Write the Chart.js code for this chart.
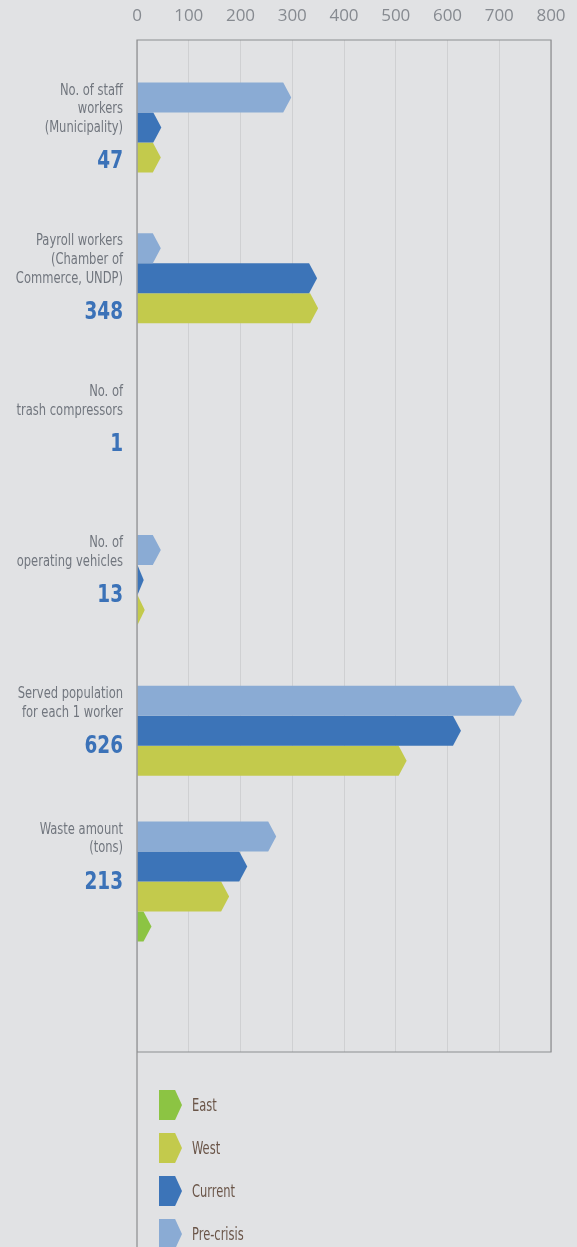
<!DOCTYPE html>
<html>
<head>
<meta charset="utf-8">
<script src="https://cdn.jsdelivr.net/npm/chart.js@4.4.1/dist/chart.umd.min.js"></script>
<style>
  html, body { margin: 0; padding: 0; background: #e1e2e4; }
  #wrap { position: relative; width: 577px; height: 1247px; overflow: hidden; }
  #legend { position: absolute; left: 159px; top: 1090px; }
  .item { height: 30px; margin-bottom: 13px; display: flex; align-items: center;
    font-family: 'Liberation Sans Narrow', 'DejaVu Sans Condensed', sans-serif;
    font-size: 17px; color: #6a5548; }
  .item span { display: inline-block; transform: scaleX(0.75); transform-origin: left center; }
  .mark { width: 23px; height: 30px; margin-right: 10px;
    clip-path: polygon(0 0, 70% 0, 100% 50%, 70% 100%, 0 100%); }
</style>
</head>
<body>
<div id="wrap">
  <canvas id="myChart" width="577" height="1247"></canvas>
  <div id="legend"></div>
</div>
<script>
// catégories (texte sur plusieurs lignes) et chiffre mis en avant
const categories = [
  ['No. of staff', 'workers', '(Municipality)'],
  ['Payroll workers', '(Chamber of', 'Commerce, UNDP)'],
  ['No. of', 'trash compressors'],
  ['No. of', 'operating vehicles'],
  ['Served population', 'for each 1 worker'],
  ['Waste amount', '(tons)']
];
const headline = ['47', '348', '1', '13', '626', '213'];

// séries
const preCrisis = [298, 46, 1, 46, 744, 269];
const current = [47, 348, 1, 13, 626, 213];
const west = [46, 350, 1, 15, 521, 178];
const east = [null, null, null, null, null, 28];

const xTicks = [0, 100, 200, 300, 400, 500, 600, 700, 800];

const seriesNames = ['Pre-crisis', 'Current', 'West', 'East'];
const seriesColors = ['#8aabd4', '#3c74b8', '#c3ca4c', '#8cc443'];
const seriesValues = [preCrisis, current, west, east];

const narrow = "'Liberation Sans Narrow', 'DejaVu Sans Condensed', sans-serif";
const BAR = 30;

// barres en forme de flèche
const arrowBars = {
  id: 'arrowBars',
  beforeDatasetDraw(chart, args) {
    const ctx = chart.ctx;
    ctx.save();
    ctx.fillStyle = chart.data.datasets[args.index].backgroundColor;
    args.meta.data.forEach(function (bar) {
      if (bar.skip) return;
      const w = bar.x - bar.base;
      if (w <= 0) return;
      const h = bar.height;
      const top = bar.y - h / 2;
      const tip = Math.min(8, w);
      ctx.beginPath();
      ctx.moveTo(bar.base, top);
      ctx.lineTo(bar.x - tip, top);
      ctx.lineTo(bar.x, bar.y);
      ctx.lineTo(bar.x - tip, top + h);
      ctx.lineTo(bar.base, top + h);
      ctx.closePath();
      ctx.fill();
    });
    ctx.restore();
    return false;
  }
};

// texte condensé (aligné à droite)
function narrowText(ctx, txt, x, y, sx) {
  ctx.save();
  ctx.translate(x, y);
  ctx.scale(sx, 1);
  ctx.fillText(txt, 0, 0);
  ctx.restore();
}

// cadre + libellés des catégories
const frameAndLabels = {
  id: 'frameAndLabels',
  afterDatasetsDraw(chart) {
    const ctx = chart.ctx;
    const a = chart.chartArea;
    ctx.save();
    ctx.strokeStyle = '#8c8d8f';
    ctx.lineWidth = 1.2;
    ctx.beginPath();
    ctx.moveTo(a.left, chart.height);
    ctx.lineTo(a.left, a.top);
    ctx.lineTo(a.right, a.top);
    ctx.lineTo(a.right, a.bottom);
    ctx.lineTo(a.left, a.bottom);
    ctx.stroke();

    const yScale = chart.scales.y;
    ctx.textAlign = 'right';
    ctx.textBaseline = 'middle';
    categories.forEach(function (lines, i) {
      // nb de barres visibles dans le groupe -> haut du groupe
      const n = seriesValues.filter(function (v) { return v[i] !== null; }).length;
      let y = yScale.getPixelForValue(i) - n * BAR / 2 + 8;
      ctx.fillStyle = '#71767e';
      ctx.font = '16px ' + narrow;
      lines.forEach(function (l, k) {
        narrowText(ctx, l, 123, y, 0.8);
        if (k < lines.length - 1) y += 18.7;
      });
      ctx.fillStyle = '#3b72b8';
      ctx.font = 'bold 25px ' + narrow;
      narrowText(ctx, headline[i], 123, y + 34, 0.82);
    });
    ctx.restore();
  }
};

const datasets = seriesNames.map(function (name, s) {
  return {
    label: name,
    data: categories.map(function (c, i) { return { x: seriesValues[s][i], y: i }; }),
    backgroundColor: seriesColors[s],
    barThickness: BAR,
    skipNull: true
  };
});

new Chart(document.getElementById('myChart'), {
  type: 'bar',
  data: { datasets: datasets },
  options: {
    indexAxis: 'y',
    responsive: false,
    animation: false,
    layout: { padding: { left: 137, right: 26, top: 0, bottom: 195 } },
    plugins: { legend: { display: false }, tooltip: { enabled: false } },
    scales: {
      x: {
        type: 'linear',
        position: 'top',
        min: 0,
        max: 800,
        afterBuildTicks: function (s) { s.ticks = xTicks.map(function (v) { return { value: v }; }); },
        afterFit: function (s) { s.height = 40; s.paddingLeft = 0; s.paddingRight = 0; },
        grid: { color: '#cfd0d2', lineWidth: 1, drawTicks: false },
        border: { display: false },
        ticks: { color: '#868a90', padding: 14, font: { family: "'Open Sans', sans-serif", size: 17 } }
      },
      y: {
        type: 'linear',
        display: false,
        offset: false,
        reverse: true,
        min: -0.58,
        max: 6.13
      }
    }
  },
  plugins: [arrowBars, frameAndLabels]
});

// légende (ordre inversé)
const legend = document.getElementById('legend');
for (let s = seriesNames.length - 1; s >= 0; s--) {
  const item = document.createElement('div');
  item.className = 'item';
  const mark = document.createElement('div');
  mark.className = 'mark';
  mark.style.background = seriesColors[s];
  const txt = document.createElement('span');
  txt.textContent = seriesNames[s];
  item.appendChild(mark);
  item.appendChild(txt);
  legend.appendChild(item);
}
</script>
</body>
</html>
